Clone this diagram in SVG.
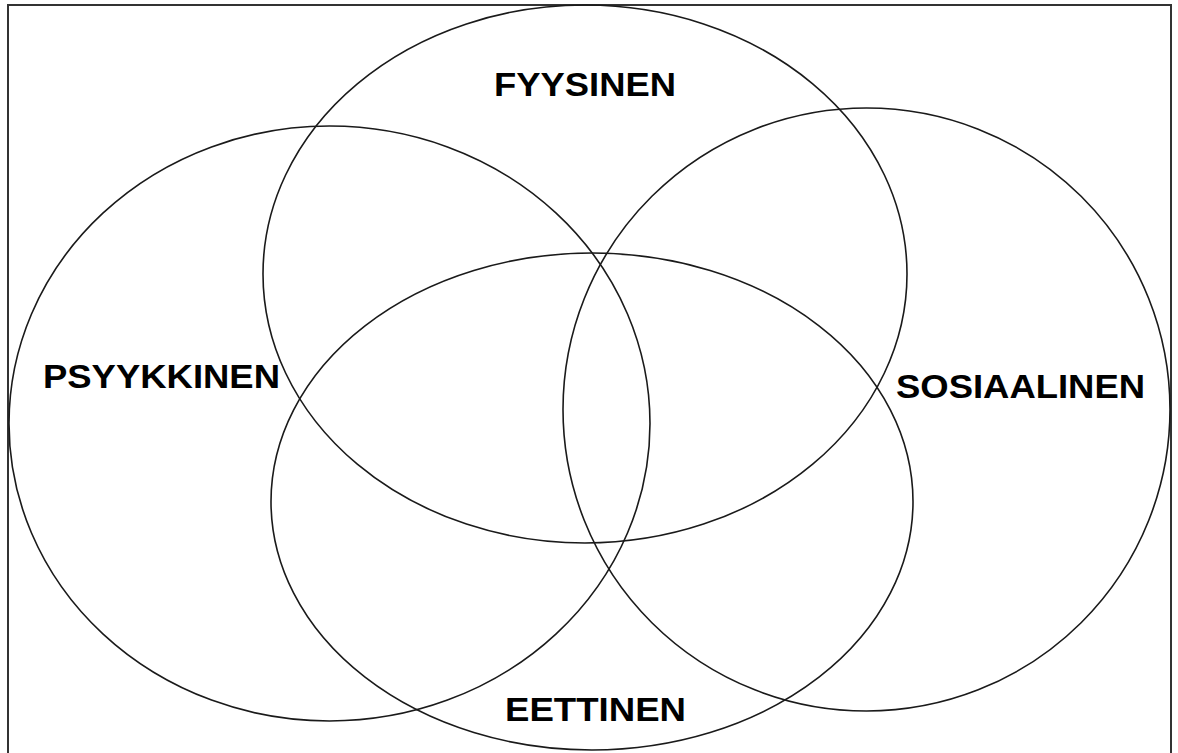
<svg xmlns="http://www.w3.org/2000/svg" width="1178" height="753" viewBox="0 0 1178 753">
<style>
.set{fill:none;stroke:#1a1a1a;stroke-width:1.6}
.lbl{font-family:"Liberation Sans",Arial,sans-serif;font-weight:bold;font-size:33px;fill:#000}
</style>
<rect x="0" y="0" width="1178" height="753" fill="#fff"/>
<rect x="8" y="5" width="1163" height="770" fill="none" stroke="#333" stroke-width="2"/>
<g id="connectors"></g>
<g id="fyysinen">
<ellipse class="set" cx="585" cy="274" rx="322" ry="269"/>
<text class="lbl" x="494" y="96" textLength="182" lengthAdjust="spacingAndGlyphs">FYYSINEN</text>
</g>
<g id="psyykkinen">
<ellipse class="set" cx="329.5" cy="423.5" rx="320.5" ry="297.5"/>
<text class="lbl" x="43" y="388" textLength="237" lengthAdjust="spacingAndGlyphs">PSYYKKINEN</text>
</g>
<g id="sosiaalinen">
<ellipse class="set" cx="866.5" cy="409.5" rx="303.5" ry="301.5"/>
<text class="lbl" x="896" y="398" textLength="249" lengthAdjust="spacingAndGlyphs">SOSIAALINEN</text>
</g>
<g id="eettinen">
<ellipse class="set" cx="592" cy="501.5" rx="321" ry="248.5"/>
<text class="lbl" x="505" y="721" textLength="181" lengthAdjust="spacingAndGlyphs">EETTINEN</text>
</g>
</svg>
